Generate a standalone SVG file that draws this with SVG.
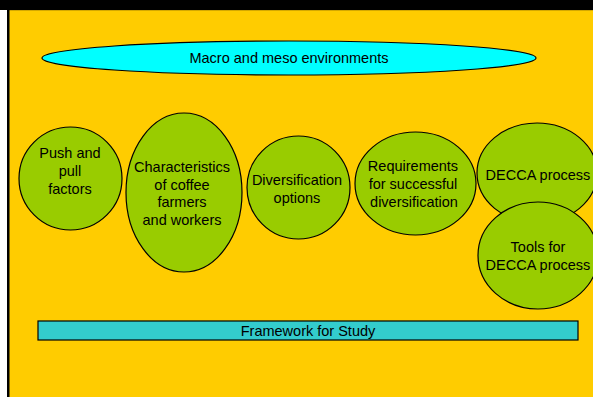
<svg xmlns="http://www.w3.org/2000/svg" width="593" height="397" viewBox="0 0 593 397">
<style>
.n{fill:#99CC00;stroke:#000;stroke-width:1.2}
.t{font-family:"Liberation Sans",Arial,sans-serif;font-size:14.5px;fill:#000;text-anchor:middle}
</style>
<rect x="0" y="0" width="593" height="397" fill="#fff"/>
<rect x="0" y="0" width="593" height="10" fill="#000"/>
<rect x="8.5" y="10.5" width="590" height="392" fill="#FFCC00" stroke="#D4A800" stroke-width="1"/>
<rect x="7" y="10" width="2.5" height="387" fill="#000"/>
<g id="macro">
<ellipse cx="289" cy="58" rx="247" ry="17" fill="#00FFFF" stroke="#000" stroke-width="1.2"/>
<text class="t" x="289" y="63">Macro and meso environments</text>
</g>
<g id="push">
<ellipse class="n" cx="70.5" cy="178.5" rx="51.5" ry="51.5"/>
<text class="t" x="70" y="158">Push and</text>
<text class="t" x="70" y="176">pull</text>
<text class="t" x="70" y="193.5">factors</text>
</g>
<g id="characteristics">
<ellipse class="n" cx="184" cy="192.5" rx="58" ry="79.5"/>
<text class="t" x="182" y="172">Characteristics</text>
<text class="t" x="182" y="189.5">of coffee</text>
<text class="t" x="182" y="207">farmers</text>
<text class="t" x="182" y="224.5">and workers</text>
</g>
<g id="diversification">
<ellipse class="n" cx="298.5" cy="187.5" rx="51.5" ry="51.5"/>
<text class="t" x="297" y="185">Diversification</text>
<text class="t" x="297" y="203">options</text>
</g>
<g id="requirements">
<ellipse class="n" cx="415.5" cy="183.5" rx="60.5" ry="51.5"/>
<text class="t" x="413" y="171">Requirements</text>
<text class="t" x="413" y="189">for successful</text>
<text class="t" x="414" y="207">diversification</text>
</g>
<g id="decca">
<ellipse class="n" cx="537" cy="173" rx="60" ry="50"/>
<text class="t" x="538" y="180">DECCA process</text>
</g>
<g id="tools">
<ellipse class="n" cx="538" cy="255.5" rx="60" ry="53.5"/>
<text class="t" x="538" y="252">Tools for</text>
<text class="t" x="538" y="270">DECCA process</text>
</g>
<g id="framework">
<rect x="38" y="321" width="540" height="19" fill="#33CCCC" stroke="#000" stroke-width="1.2"/>
<text class="t" x="308" y="336">Framework for Study</text>
</g>
<g id="connectors"></g>
</svg>
